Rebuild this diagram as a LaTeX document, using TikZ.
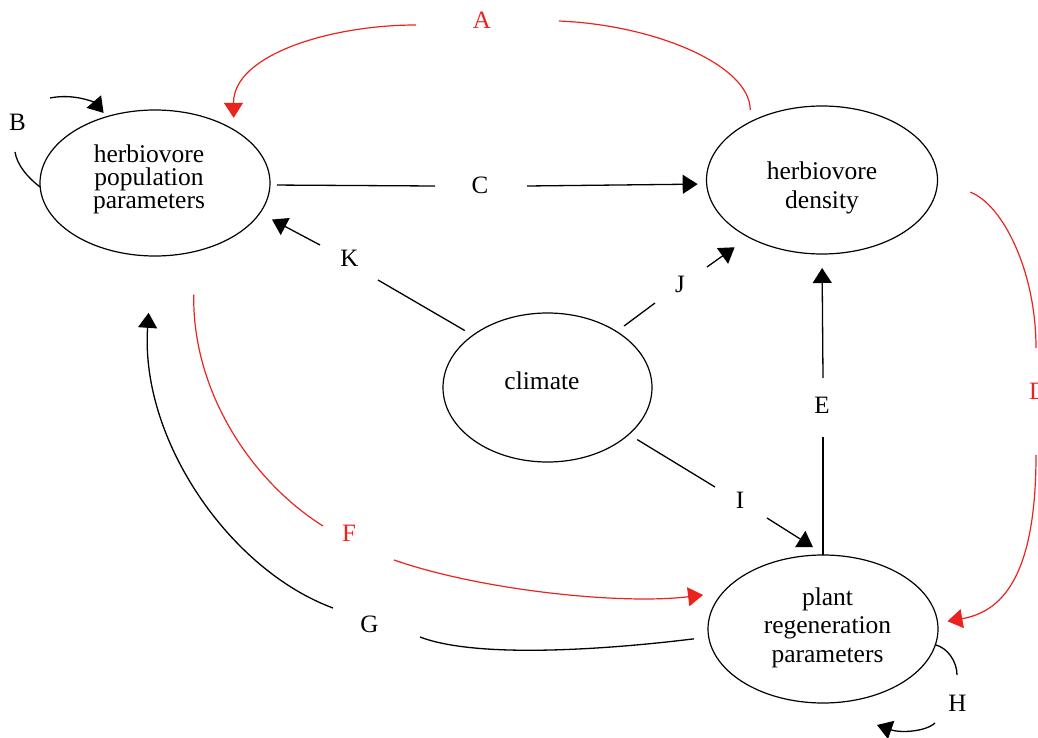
\documentclass[tikz,border=0pt]{standalone}
\usepackage{fontspec}
\setmainfont{Liberation Serif}
\usetikzlibrary{arrows.meta,shapes.geometric}
\definecolor{lred}{RGB}{235,35,30}
\begin{document}
\begin{tikzpicture}[x=1pt,y=-1pt,
  oval/.style={ellipse, draw, line width=1.2pt, inner sep=0pt, outer sep=0pt},
  txt/.style={align=center, inner sep=0pt},
  lbl/.style={inner sep=0pt, font=\fontsize{25}{28}\selectfont},
  conn/.style={line width=1.3pt, black},
  rconn/.style={line width=1.2pt, lred},
  arr/.style={-{Triangle[length=15pt,width=19pt]}}]
\useasboundingbox (0,0) rectangle (1038,738);
\clip (0,0) rectangle (1038,738);

% ellipses
\node[oval, minimum width=230pt, minimum height=146pt] (hpp) at (155,183) {};
\node[oval, minimum width=231pt, minimum height=148pt] (hd) at (822,180) {};
\node[oval, minimum width=209pt, minimum height=149pt] (cl) at (547.5,387.5) {};
\node[oval, minimum width=230pt, minimum height=148pt] (prp) at (823,629) {};

% texts
\node[txt, font=\fontsize{25.5}{23.3}\selectfont] (hpp-t) at (149,179.3) {herbiovore\\population\\parameters};
\node[txt, font=\fontsize{25.5}{29}\selectfont] (hd-t) at (822,187.8) {herbiovore\\density};
\node[txt, font=\fontsize{25.5}{28}\selectfont] (cl-t) at (542,380.6) {climate};
\node[txt, font=\fontsize{25.5}{28.3}\selectfont] (prp-t) at (827.5,627.8) {plant\\regeneration\\parameters};

% labels
\node[lbl, text=lred] (lA) at (482,20) {A};
\node[lbl] (lB) at (17.5,122.5) {B};
\node[lbl] (lC) at (480,185) {C};
\node[lbl, text=lred, anchor=base west] (lD) at (1029,399) {D};
\node[lbl] (lE) at (822,405) {E};
\node[lbl, text=lred] (lF) at (349,533) {F};
\node[lbl] (lG) at (369.5,624.7) {G};
\node[lbl] (lH) at (957.5,703.3) {H};
\node[lbl] (lI) at (740,500.5) {I};
\node[lbl] (lJ) at (680,284.3) {J};
\node[lbl] (lK) at (349.5,258) {K};

% gap ends
\coordinate (Ca) at (435,186); \coordinate (Cb) at (527,186);
\coordinate (Ka) at (320,245); \coordinate (Kb) at (378,280);
\coordinate (Ja) at (655,303); \coordinate (Jb) at (707,267);
\coordinate (Ia) at (715,487); \coordinate (Ib) at (767,518);
\coordinate (Ea) at (823,437); \coordinate (Eb) at (823,378);
\coordinate (A1) at (559,21);  \coordinate (A2) at (416,25);
\coordinate (B1) at (15,152);  \coordinate (B2) at (50,98);
\coordinate (D1) at (1036,348); \coordinate (D2) at (1036,455);
\coordinate (F1) at (323,526); \coordinate (F2) at (394,560);
\coordinate (G1) at (420,637); \coordinate (G2) at (333,608);
\coordinate (H1) at (957,675); \coordinate (H2) at (935,723);
\coordinate (H3) at (877,725);

% C
\draw[conn, shorten <=7pt] (hpp.-1.4) -- (Ca);
\draw[conn, arr, shorten >=9pt] (Cb) -- (hd.182.8);
% K
\draw[conn, shorten <=9.5pt] (cl.145.1) -- (Kb);
\draw[conn, arr, shorten >=13.8pt] (Ka) -- (hpp.-16.1);
% J
\draw[conn, shorten <=9.4pt] (cl.39.6) -- (Ja);
\draw[conn, arr, shorten >=17.3pt] (Jb) -- (hd.-142.9);
% I
\draw[conn, shorten <=10pt] (cl.-30.9) -- (Ia);
\draw[conn, arr, shorten >=15pt] (Ib) -- (prp.88.5);
% E
\draw[conn] (prp.90) -- (Ea);
\draw[conn, arr, shorten >=14pt] (Eb) -- (hd.-90);
% A
\draw[rconn, shorten <=12pt] (hd.141) .. controls (750,65) and (655,25) .. (A1);
\draw[rconn, arr, shorten >=12pt] (A2) .. controls (330,25) and (233,55) .. (hpp.34.5);
% B
\draw[conn] (hpp.182) .. controls (28,178) and (17,165) .. (B1);
\draw[conn, arr, shorten >=5pt] (B2) .. controls (75,93) and (95,103) .. (hpp.126.6);
% D
\draw[rconn, shorten <=35pt] (hd.0) .. controls (1002,204) and (1036,270) .. (D1);
\draw[rconn, arr, shorten >=10pt] (D2) .. controls (1036,580) and (1000,612) .. (prp.3);
% F
\draw[rconn, shorten <=43pt] (hpp.-60.4) .. controls (192,390) and (250,480) .. (F1);
\draw[rconn, arr, shorten >=20pt] (F2) .. controls (480,590) and (620,605) .. (prp.160.3);
% G
\draw[conn, shorten <=15pt] (prp.-176) .. controls (620,648) and (480,660) .. (G1);
\draw[conn, arr, shorten >=57pt] (G2) .. controls (230,570) and (140,440) .. (hpp.-92);
% H
\draw[conn] (prp.-8.1) .. controls (948,648) and (957,662) .. (H1);
\draw[conn, arr] (H2) .. controls (925,732) and (900,733) .. (H3);
\end{tikzpicture}
\end{document}
